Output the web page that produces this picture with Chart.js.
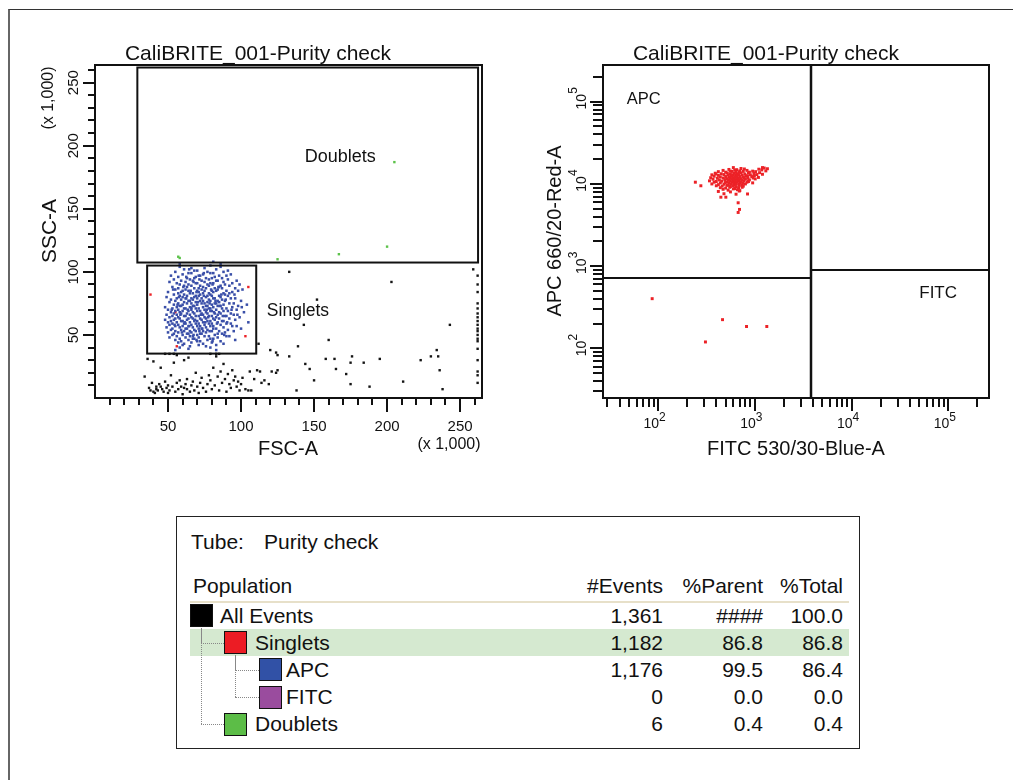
<!doctype html>
<html>
<head>
<meta charset="utf-8">
<title>CaliBRITE_001 - Purity check</title>
<script src="https://cdn.jsdelivr.net/npm/chart.js"></script>
<style>
    body { margin: 0; background: #fff; font-family: "Liberation Sans", Arial, sans-serif; }
    #page { position: relative; width: 1013px; height: 780px; overflow: hidden; }
    #frame { position: absolute; left: 8px; top: 9px; width: 1020px; height: 800px; border-top: 1px solid #333; border-left: 2px solid #666; }
    #left { position: absolute; left: 0; top: 0; }
    #right { position: absolute; left: 520px; top: 0; }
    #stats { position: absolute; left: 176px; top: 516px; width: 682px; height: 231px; border: 1.5px solid #222; }
    .t { position: absolute; font-size: 21px; line-height: 22px; white-space: nowrap; color: #111; transform: translateY(-50%); }
    .sq { position: absolute; width: 21px; height: 21px; border: 1px solid #111; }
    .dot { position: absolute; border-color: #888; border-style: dotted; border-width: 0; }
</style>
</head>
<body>
<div id="page">
    <div id="frame"></div>
    <canvas id="left" width="520" height="470"></canvas>
    <canvas id="right" width="493" height="470"></canvas>
    <div id="stats"></div>
</div>
<script>
    // ---- FSC-A / SSC-A plot, values in x 1,000
    const fscLabels = [50, 100, 150, 200, 250]
    const sscLabels = [50, 100, 150, 200, 250]
    const singletsGate = { x: [35.7, 110.4], y: [35.2, 105] }
    const doubletsGate = { x: [29, 262.3], y: [107.4, 262] }

    const apcInSinglets = [
        [58,104],[66,103],[79,105],[86,104],[58,106],[86,106],[81,108],
        [61,102],[70,101],[75,103],[83,102],[91,101],
        [55,100],[64,99],[68,101],[77,100],[81,99],[88,100],
        [52,97],[60,98],[66,99],[71,97],[74,98],[79,99],[85,97],[93,98],
        [57,96],[63,95],[69,96],[72,97],[76,95],[82,96],[87,95],[90,97],
        [54,94],[59,93],[65,94],[68,95],[73,93],[78,94],[80,95],[84,93],[91,94],[97,93],
        [51,92],[56,91],[62,92],[67,93],[70,91],[75,92],[79,91],[83,93],[88,92],[94,91],
        [58,90],[61,89],[64,90],[69,91],[72,89],[77,90],[81,91],[86,89],[89,90],[99,90],
        [53,88],[57,87],[63,88],[66,89],[71,87],[74,88],[78,89],[82,87],[85,88],[92,89],[96,87],
        [55,86],[60,85],[62,86],[68,87],[70,85],[73,86],[76,87],[80,85],[84,86],[87,87],[90,85],[101,86],
        [50,84],[57,83],[59,84],[64,85],[67,83],[71,84],[75,85],[78,83],[81,84],[83,85],[88,83],[94,84],[98,85],
        [54,82],[58,81],[61,82],[65,83],[69,81],[72,82],[74,83],[77,81],[79,82],[85,81],[89,82],[92,83],
        [49,80],[56,79],[60,80],[63,81],[66,79],[68,80],[71,81],[73,79],[76,80],[80,81],[82,79],[86,80],[91,81],[96,79],
        [52,78],[55,77],[59,78],[62,79],[65,77],[67,78],[70,79],[74,77],[78,78],[81,79],[84,77],[87,78],[93,79],[100,77],
        [51,76],[57,75],[61,76],[64,77],[66,75],[69,76],[72,77],[75,75],[77,76],[79,77],[83,75],[85,76],[89,77],[95,75],
        [54,74],[58,73],[60,74],[63,75],[67,73],[70,74],[73,75],[76,73],[80,74],[82,75],[86,73],[88,74],[92,75],[98,73],[104,74],
        [48,72],[53,71],[56,72],[59,73],[62,71],[65,72],[68,73],[71,71],[74,72],[77,73],[79,71],[81,72],[84,73],[90,71],[94,72],
        [50,70],[55,69],[57,70],[61,71],[64,69],[66,70],[69,71],[72,69],[75,70],[78,71],[80,69],[83,70],[87,71],[91,69],[97,70],
        [52,68],[54,67],[58,68],[60,69],[63,67],[67,68],[70,69],[73,67],[76,68],[79,69],[82,67],[85,68],[88,69],[93,67],[102,68],
        [49,66],[53,65],[56,66],[59,67],[62,65],[65,66],[68,67],[71,65],[74,66],[77,67],[80,65],[84,66],[86,67],[90,65],[95,66],
        [51,64],[55,63],[57,64],[61,65],[64,63],[66,64],[69,65],[72,63],[75,64],[78,65],[81,63],[83,64],[89,65],[92,63],[99,64],
        [48,62],[52,61],[54,62],[58,63],[60,61],[63,62],[67,63],[70,61],[73,62],[76,63],[79,61],[82,62],[85,63],[88,61],[96,62],
        [50,60],[53,59],[56,60],[59,61],[62,59],[65,60],[68,61],[71,59],[74,60],[77,61],[80,59],[84,60],[87,61],[93,59],[105,60],
        [51,58],[55,57],[57,58],[61,59],[64,57],[66,58],[69,59],[72,57],[75,58],[78,59],[81,57],[86,58],[90,59],[97,57],
        [49,56],[53,55],[58,56],[60,57],[63,55],[67,56],[70,57],[73,55],[76,56],[79,57],[83,55],[88,56],[94,57],
        [52,54],[55,53],[59,54],[62,55],[65,53],[68,54],[71,55],[74,53],[77,54],[81,55],[85,53],[91,54],[100,55],
        [50,52],[54,51],[57,52],[61,53],[64,51],[66,52],[69,53],[72,51],[76,52],[80,53],[84,51],[89,52],[95,53],
        [53,50],[56,49],[60,50],[63,51],[67,49],[70,50],[73,51],[78,49],[82,50],[87,51],[92,49],
        [51,48],[58,47],[62,48],[65,49],[68,47],[71,48],[75,49],[79,47],[84,48],[90,49],
        [55,46],[59,45],[64,46],[67,47],[72,45],[77,46],[81,47],[86,45],[96,46],
        [57,44],[61,43],[66,44],[70,45],[74,43],[80,44],[88,43],
        [60,42],[65,41],[71,42],[76,41],[83,42],
        [58,40],[64,39],[79,40],[55,38],[83,38],
        [66,71.5],[72.5,66],[78.5,75],[62.5,79],[69.5,84],[75.5,60],[81.5,68],[58.5,66],[85.5,73],[64.5,57],
        [71.5,53],[79.5,86],[67.5,92],[87.5,65],[60.5,88],[83.5,59],[74.5,81],[70.5,76],[63.5,70],[77.5,64],
        [89.5,78],[56.5,74],[68.5,62],[80.5,90],[73.5,55],[65.5,85],[86.5,82],[61.5,60],[76.5,70],[82.5,77],
        [59.5,52],[90.5,60],[71.5,94],[54.5,58],[93.5,70],[67.5,50],[78.5,53],[84.5,88],[62.5,96],[74.5,99],
        [57.5,80],[95.5,82],[52.5,70],[69.5,46],[88.5,50],[97.5,66],[64.5,102],[100.5,72],[53.5,86],[80.5,45]
    ]
    const otherSinglets = [[38,82],[105,88],[103,49],[56,41],[55,68]]
    const doubletEvents = [[57,112],[58,111],[125,110],[167,114],[200,120],[205,187]]
    const ungatedEvents = [
        [34,17],[36,31],[37,8],[38,6],[39,12],[40,29],[41,4],[42,9],[43,6],[44,11],[45,24],[46,7],[47,5],[48,13],
        [49,8],[50,4],[50,10],[51,6],[52,18],[53,9],[54,28],[55,5],[56,12],[57,7],[58,14],[59,9],[60,3],[61,30],
        [62,11],[63,7],[63,15],[64,32],[65,5],[66,10],[67,13],[68,6],[69,20],[70,9],[71,4],[72,12],[73,16],[74,8],
        [76,5],[77,11],[78,18],[79,14],[80,7],[81,24],[82,10],[83,33],[84,17],[85,6],[86,21],[87,12],[88,27],[89,15],
        [90,5],[91,19],[92,11],[93,8],[94,22],[95,14],[96,17],[97,9],[98,13],[99,6],[100,11],[101,16],[103,7],[105,6],
        [106,21],[107,6],[109,15],[111,22],[113,21],[114,12],[116,14],[119,11],[121,21],[124,20],[125,22],
        [48,35],[51,35],[54,35],[56,34],[79,35],[83,35],[85,35],[42,7],[45,9],[61,8],[40,5],
        [112,43],[120,38],[124,36],[125,34],[133,100],[133,33],[138,6],[139,41],[143,58],[144,27],[147,23],[150,14],
        [152,78],[158,31],[160,46],[164,31],[165,23],[172,19],[175,11],[176,33],[175,28],[184,28],[188,9],[195,31],
        [203,92],[211,13],[223,30],[230,33],[234,38],[235,33],[236,22],[238,7],[243,58],[259,102],
        [262,97],[262,90],[262,84],[262,75],[262,71],[262,67],[262,64],[262,61],[262,58],[262,55],[262,53],
        [262,50],[262,47],[262,45],[262,39],[262,30],[262,21],[262,18],[262,12]
    ]

    // ---- FITC / APC plot (log axes)
    const logExponents = [2, 3, 4, 5]
    const fitcSplit = 3780
    const apcSplitLeft = 714
    const apcSplitRight = 910
    const apcEvents = [
        [600,15800],[720,15400],[1350,15300],[1200,15800],
        [540,15000],[650,14900],[780,15200],[1100,15100],[1250,15600],
        [470,14600],[560,14300],[620,14700],[700,14400],[830,14600],[950,14300],[1180,14800],
        [420,14100],[500,13900],[580,14200],[640,13800],[690,14000],[760,14200],[880,13900],[1020,14100],[1300,14400],
        [390,13500],[450,13300],[520,13600],[560,13200],[610,13500],[660,13300],[720,13600],[790,13200],[860,13500],[980,13400],[1120,13700],
        [360,12900],[420,12700],[480,13000],[530,12800],[570,12600],[600,12900],[640,12700],[680,13000],[740,12800],[810,12600],[900,12900],[1050,13000],[1200,13100],
        [380,12400],[440,12200],[500,12300],[545,12100],[585,12400],[620,12200],[655,12500],[700,12300],[760,12100],[840,12400],[930,12300],[990,12600],
        [350,11900],[410,11700],[470,11800],[520,11600],[560,11900],[600,11700],[630,12000],[670,11800],[720,11600],[780,11900],[850,11700],[960,11800],[1090,12000],
        [370,11400],[430,11200],[490,11300],[535,11100],[575,11400],[615,11200],[650,11500],[690,11300],[740,11100],[800,11400],[880,11200],[1010,11500],
        [340,10900],[400,10700],[455,10800],[510,10600],[550,10900],[590,10700],[625,11000],[665,10800],[710,10600],[770,10900],[860,10700],
        [380,10500],[440,10300],[495,10400],[540,10200],[580,10500],[615,10300],[650,10600],[700,10400],[750,10200],[830,10500],[950,10300],
        [360,10000],[420,9800],[480,9900],[530,9700],[570,10000],[610,9800],[645,10100],[690,9900],[740,9700],[800,10000],
        [400,9500],[460,9400],[515,9600],[560,9300],[600,9500],[640,9300],[690,9600],[760,9400],
        [440,9000],[500,8900],[550,9100],[620,8800],[680,9000],[740,9100],
        [470,8600],[530,8400],[600,8700],[660,8500],[700,8300],
        [420,8100],[560,8000],[690,8200],[480,7600],[640,7500],
        [277,9500],[396,13200],[841,7550],[446,6900],[502,6900],
        [243,10500],[673,5900],[695,4900],[673,4500],
        [87,403],[464,224],[821,185],[1330,185],[309,120]
    ]

    // ---- population table
    const popNames = ['All Events', 'Singlets', 'APC', 'FITC', 'Doublets']
    const popEvents = ['1,361', '1,182', '1,176', '0', '6']
    const popParentPct = ['####', '86.8', '99.5', '0.0', '0.4']
    const popTotalPct = ['100.0', '86.8', '86.4', '0.0', '0.4']
    const popColors = ['#000000', '#ec1c24', '#3151a6', '#9a4c9e', '#5cbd47']
    const popParent = [-1, 0, 1, 1, 0]
    const popLevel = [0, 1, 2, 2, 1]

    const FONT = '"Liberation Sans", Arial, sans-serif'
    const toXY = pts => pts.map(p => ({ x: p[0], y: p[1] }))

    function text(ctx, str, x, y, size, align, rotate) {
        ctx.save()
        ctx.translate(x, y)
        if (rotate) ctx.rotate(-Math.PI / 2)
        ctx.font = `${size}px ${FONT}`
        ctx.textAlign = align || 'center'
        ctx.textBaseline = 'middle'
        ctx.fillStyle = '#111'
        ctx.fillText(str, 0, 0)
        ctx.restore()
    }

    function line(ctx, x0, y0, x1, y1) {
        ctx.beginPath()
        ctx.moveTo(x0, y0)
        ctx.lineTo(x1, y1)
        ctx.stroke()
    }

    function gateRect(ctx, x, y, gx, gy) {
        const x0 = x.getPixelForValue(gx[0]), x1 = x.getPixelForValue(gx[1])
        const y0 = y.getPixelForValue(gy[1]), y1 = y.getPixelForValue(gy[0])
        ctx.strokeRect(x0, y0, x1 - x0, y1 - y0)
    }

    function options(padding, xScale, yScale) {
        return {
            responsive: false,
            animation: false,
            devicePixelRatio: 1,
            layout: { padding: padding },
            scales: {
                x: { display: false, ...xScale },
                y: { display: false, ...yScale }
            },
            elements: { point: { pointStyle: 'rect', radius: 1.7, borderWidth: 0, hoverRadius: 1.7 } },
            plugins: { legend: { display: false }, tooltip: { enabled: false } }
        }
    }

    function dataset(pts, color, r) {
        return { data: toXY(pts), backgroundColor: color, borderColor: color, pointRadius: r || 1.7 }
    }

    const leftDecor = {
        id: 'leftDecor',
        afterDatasetsDraw(chart) {
            const { ctx, chartArea: a, scales: { x, y } } = chart
            ctx.save()
            ctx.strokeStyle = '#111'
            ctx.lineWidth = 2
            ctx.strokeRect(a.left, a.top, a.right - a.left, a.bottom - a.top)
            gateRect(ctx, x, y, doubletsGate.x, doubletsGate.y)
            gateRect(ctx, x, y, singletsGate.x, singletsGate.y)

            for (let v = 10; v <= 260; v += 10) {
                const major = fscLabels.includes(v)
                const px = Math.round(x.getPixelForValue(v))
                line(ctx, px, a.bottom, px, a.bottom + (major ? 14 : 7))
                const py = Math.round(y.getPixelForValue(v))
                line(ctx, a.left, py, a.left - (sscLabels.includes(v) ? 12 : 7), py)
            }
            fscLabels.forEach(v => text(ctx, String(v), x.getPixelForValue(v), a.bottom + 29, 15))
            sscLabels.forEach(v => text(ctx, String(v), a.left - 21, y.getPixelForValue(v), 15, 'center', true))

            text(ctx, 'CaliBRITE_001-Purity check', a.left + 163, a.top - 11, 21)
            text(ctx, 'FSC-A', a.left + 193, a.bottom + 51, 20)
            text(ctx, '(x 1,000)', a.left + 354, a.bottom + 47, 16)
            text(ctx, 'SSC-A', a.left - 45, a.top + 166, 21, 'center', true)
            text(ctx, '(x 1,000)', a.left - 46, a.top + 33, 16, 'center', true)
            text(ctx, 'Doublets', x.getPixelForValue(168), y.getPixelForValue(191), 18)
            text(ctx, 'Singlets', x.getPixelForValue(139), y.getPixelForValue(69), 17.5)
            ctx.restore()
        }
    }

    function powLabelX(ctx, px, py, e) {
        text(ctx, '10', px + 1, py, 14, 'right')
        text(ctx, String(e), px + 1, py - 6, 12, 'left')
    }

    function powLabelY(ctx, px, py, e) {
        ctx.save()
        ctx.translate(px, py)
        ctx.rotate(-Math.PI / 2)
        text(ctx, '10', 0, 0, 14)
        text(ctx, String(e), 8, -8, 12, 'left')
        ctx.restore()
    }

    const rightDecor = {
        id: 'rightDecor',
        afterDatasetsDraw(chart) {
            const { ctx, chartArea: a, scales: { x, y } } = chart
            ctx.save()
            ctx.strokeStyle = '#111'
            ctx.lineWidth = 2
            ctx.strokeRect(a.left, a.top, a.right - a.left, a.bottom - a.top)

            const vx = Math.round(x.getPixelForValue(fitcSplit))
            ctx.lineWidth = 2.5
            line(ctx, vx, a.top, vx, a.bottom)
            ctx.lineWidth = 2
            const hl = Math.round(y.getPixelForValue(apcSplitLeft))
            line(ctx, a.left, hl, vx, hl)
            const hr = Math.round(y.getPixelForValue(apcSplitRight))
            line(ctx, vx, hr, a.right, hr)

            for (let e = 1; e <= 5; e++) {
                for (let m = 1; m <= 9; m++) {
                    const v = m * Math.pow(10, e)
                    const major = m === 1
                    if (v >= x.min && v <= x.max) {
                        const px = Math.round(x.getPixelForValue(v))
                        line(ctx, px, a.bottom, px, a.bottom + (major ? 13 : 9))
                    }
                    if (v >= y.min && v <= y.max) {
                        const py = Math.round(y.getPixelForValue(v))
                        line(ctx, a.left, py, a.left - (major ? 13 : 10), py)
                    }
                }
            }
            logExponents.forEach(e => {
                powLabelX(ctx, x.getPixelForValue(Math.pow(10, e)), a.bottom + 26, e)
                powLabelY(ctx, a.left - 21, y.getPixelForValue(Math.pow(10, e)), e)
            })

            text(ctx, 'CaliBRITE_001-Purity check', a.left + 163, a.top - 11, 21)
            text(ctx, 'FITC 530/30-Blue-A', a.left + 193, a.bottom + 51, 20)
            text(ctx, 'APC 660/20-Red-A', a.left - 48, a.top + 166, 20, 'center', true)
            text(ctx, 'APC', x.getPixelForValue(71), y.getPixelForValue(105000), 16.5)
            text(ctx, 'FITC', x.getPixelForValue(78400), y.getPixelForValue(466), 17)
            ctx.restore()
        }
    }

    new Chart(document.getElementById('left'), {
        type: 'scatter',
        data: {
            datasets: [
                dataset(ungatedEvents, '#151515'),
                dataset(doubletEvents, '#5cc24a'),
                dataset(apcInSinglets, '#3a4fa8', 1.8),
                dataset(otherSinglets, '#ec2227')
            ]
        },
        options: options({ left: 95, top: 65, right: 38, bottom: 72 },
            { type: 'linear', min: 0, max: 265 },
            { type: 'linear', min: 0, max: 264 }),
        plugins: [leftDecor]
    })

    new Chart(document.getElementById('right'), {
        type: 'scatter',
        data: { datasets: [dataset(apcEvents, '#ec2227', 2.1)] },
        options: options({ left: 83, top: 65, right: 24, bottom: 72 },
            { type: 'logarithmic', min: 27, max: 263000 },
            { type: 'logarithmic', min: 25, max: 279000 }),
        plugins: [rightDecor]
    })

    // population statistics box
    const stats = document.getElementById('stats')
    const rowY = i => 98.5 + i * 27.2
    const sqLeft = [13, 47, 82]
    const labelLeft = [43, 78, 109]

    function add(cls, style, str) {
        const el = document.createElement('div')
        el.className = cls
        Object.assign(el.style, style)
        if (str !== undefined) el.textContent = str
        stats.appendChild(el)
        return el
    }

    add('t', { left: '14px', top: '25px' }, 'Tube:')
    add('t', { left: '87px', top: '25px' }, 'Purity check')
    add('t', { left: '16px', top: '69px' }, 'Population')
    add('t', { right: '196px', top: '69px' }, '#Events')
    add('t', { right: '96px', top: '69px' }, '%Parent')
    add('t', { right: '16px', top: '69px' }, '%Total')
    add('', { position: 'absolute', left: '13px', width: '659px', top: '84px', height: '2px', background: '#e7e0c9' })
    add('', { position: 'absolute', left: '13px', width: '659px', top: (rowY(1) - 13.5) + 'px', height: '27px', background: '#d5e9d0' })

    popNames.forEach((name, i) => {
        const lv = popLevel[i]
        const p = popParent[i]
        if (p >= 0) {
            const cx = sqLeft[popLevel[p]] + 11
            add('dot', { left: cx + 'px', top: rowY(i) + 'px', width: (sqLeft[lv] - cx) + 'px', height: '0px', borderTopWidth: '1px' })
            add('dot', { left: cx + 'px', top: (rowY(p) + 12) + 'px', width: '0px', height: (rowY(i) - rowY(p) - 12) + 'px', borderLeftWidth: '1px' })
        }
        add('sq', { left: sqLeft[lv] + 'px', top: (rowY(i) - 11.5) + 'px', background: popColors[i] })
        add('t', { left: labelLeft[lv] + 'px', top: rowY(i) + 'px' }, name)
        add('t', { right: '196px', top: rowY(i) + 'px' }, popEvents[i])
        add('t', { right: '96px', top: rowY(i) + 'px' }, popParentPct[i])
        add('t', { right: '16px', top: rowY(i) + 'px' }, popTotalPct[i])
    })
</script>
</body>
</html>
